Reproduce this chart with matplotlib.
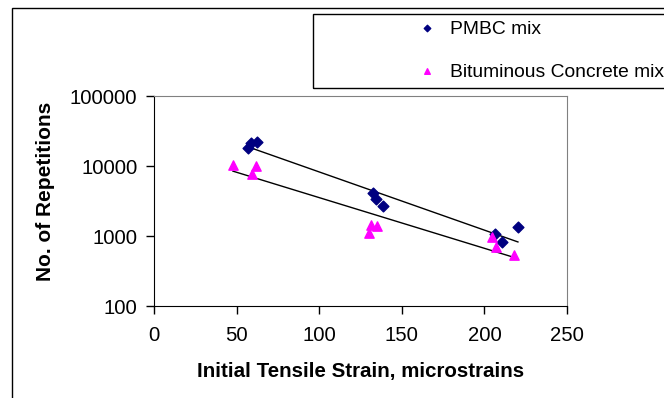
import numpy as np
import matplotlib.pyplot as plt
from matplotlib.patches import Rectangle

# ------------------------------------------------------
# Datos
# ------------------------------------------------------

pmbc_strain = [56.9, 58.7, 62.3, 132.6, 134.4, 138.6, 206.4, 210.7, 220.3]
pmbc_reps = [18000, 21000, 22000, 4100, 3400, 2700, 1070, 820, 1350]

bc_strain = [47.8, 59.3, 61.7, 130.1, 131.4, 135.0, 204.6, 207.0, 217.9]
bc_reps = [10300, 7700, 10000, 1100, 1430, 1390, 970, 700, 535]

x_ticks = [0, 50, 100, 150, 200, 250]
y_ticks = [100, 1000, 10000, 100000]

plt.rcParams["font.family"] = ["Liberation Sans", "DejaVu Sans"]

W, H = 664, 398
fig = plt.figure(figsize=(W / 100, H / 100), dpi=100)
ax = fig.add_axes([154 / W, 1 - 306 / H, 413 / W, 210 / H])

# marco exterior del gráfico
fig.patches.append(Rectangle((12 / W, -0.1), 1.2, 1 - 8 / H + 0.1,
                             transform=fig.transFigure, fill=False,
                             edgecolor="black", linewidth=1.0))

# marco de la leyenda (sale por la derecha, como en el original)
fig.patches.append(Rectangle((313 / W, 1 - 88 / H), 1.0, 74 / H,
                             transform=fig.transFigure, fill=False,
                             edgecolor="black", linewidth=1.0, zorder=5))


def trend(x, y):
    # línea de tendencia exponencial (recta en escala log)
    x = np.array(x)
    b, a = np.polyfit(x, np.log10(y), 1)
    xs = np.linspace(x.min(), x.max(), 50)
    return xs, 10 ** (a + b * xs)


xs, ys = trend(pmbc_strain, pmbc_reps)
ax.plot(xs, ys, color="black", linewidth=1.0, zorder=2)
xs, ys = trend(bc_strain, bc_reps)
ax.plot(xs, ys, color="black", linewidth=1.0, zorder=2)

ax.scatter(pmbc_strain, pmbc_reps, marker="D", s=30, color="#000080",
           zorder=3, label="PMBC mix")
ax.scatter(bc_strain, bc_reps, marker="^", s=45, color="#FF00FF",
           zorder=3, label="Bituminous Concrete mix")

ax.set_yscale("log")
ax.set_xlim(0, 250)
ax.set_ylim(100, 100000)
ax.set_xticks(x_ticks)
ax.set_yticks(y_ticks)
ax.set_yticklabels([str(v) for v in y_ticks])
ax.minorticks_off()
ax.tick_params(axis="both", direction="out", length=5.5, width=1,
               labelsize=14.6, color="black")
ax.tick_params(axis="x", pad=9)
ax.tick_params(axis="y", pad=6.5)

for side in ["top", "right"]:
    ax.spines[side].set_color("#808080")
for side in ["left", "bottom"]:
    ax.spines[side].set_color("black")

ax.set_xlabel("Initial Tensile Strain, microstrains", fontsize=14.8,
              fontweight="bold")
ax.xaxis.set_label_coords(0.5, -0.265)
ax.set_ylabel("No. of Repetitions", fontsize=15, fontweight="bold")
ax.yaxis.set_label_coords(-0.24, 0.548)

fs = 13.9
leg = fig.legend(loc="upper left", bbox_to_anchor=(417 / W, 1 - 20 / H),
                 frameon=False, fontsize=fs, labelspacing=1.32,
                 handletextpad=0.69, borderpad=0, borderaxespad=0,
                 handlelength=1.0, markerscale=0.6)

fig.savefig("out.png", dpi=100)
